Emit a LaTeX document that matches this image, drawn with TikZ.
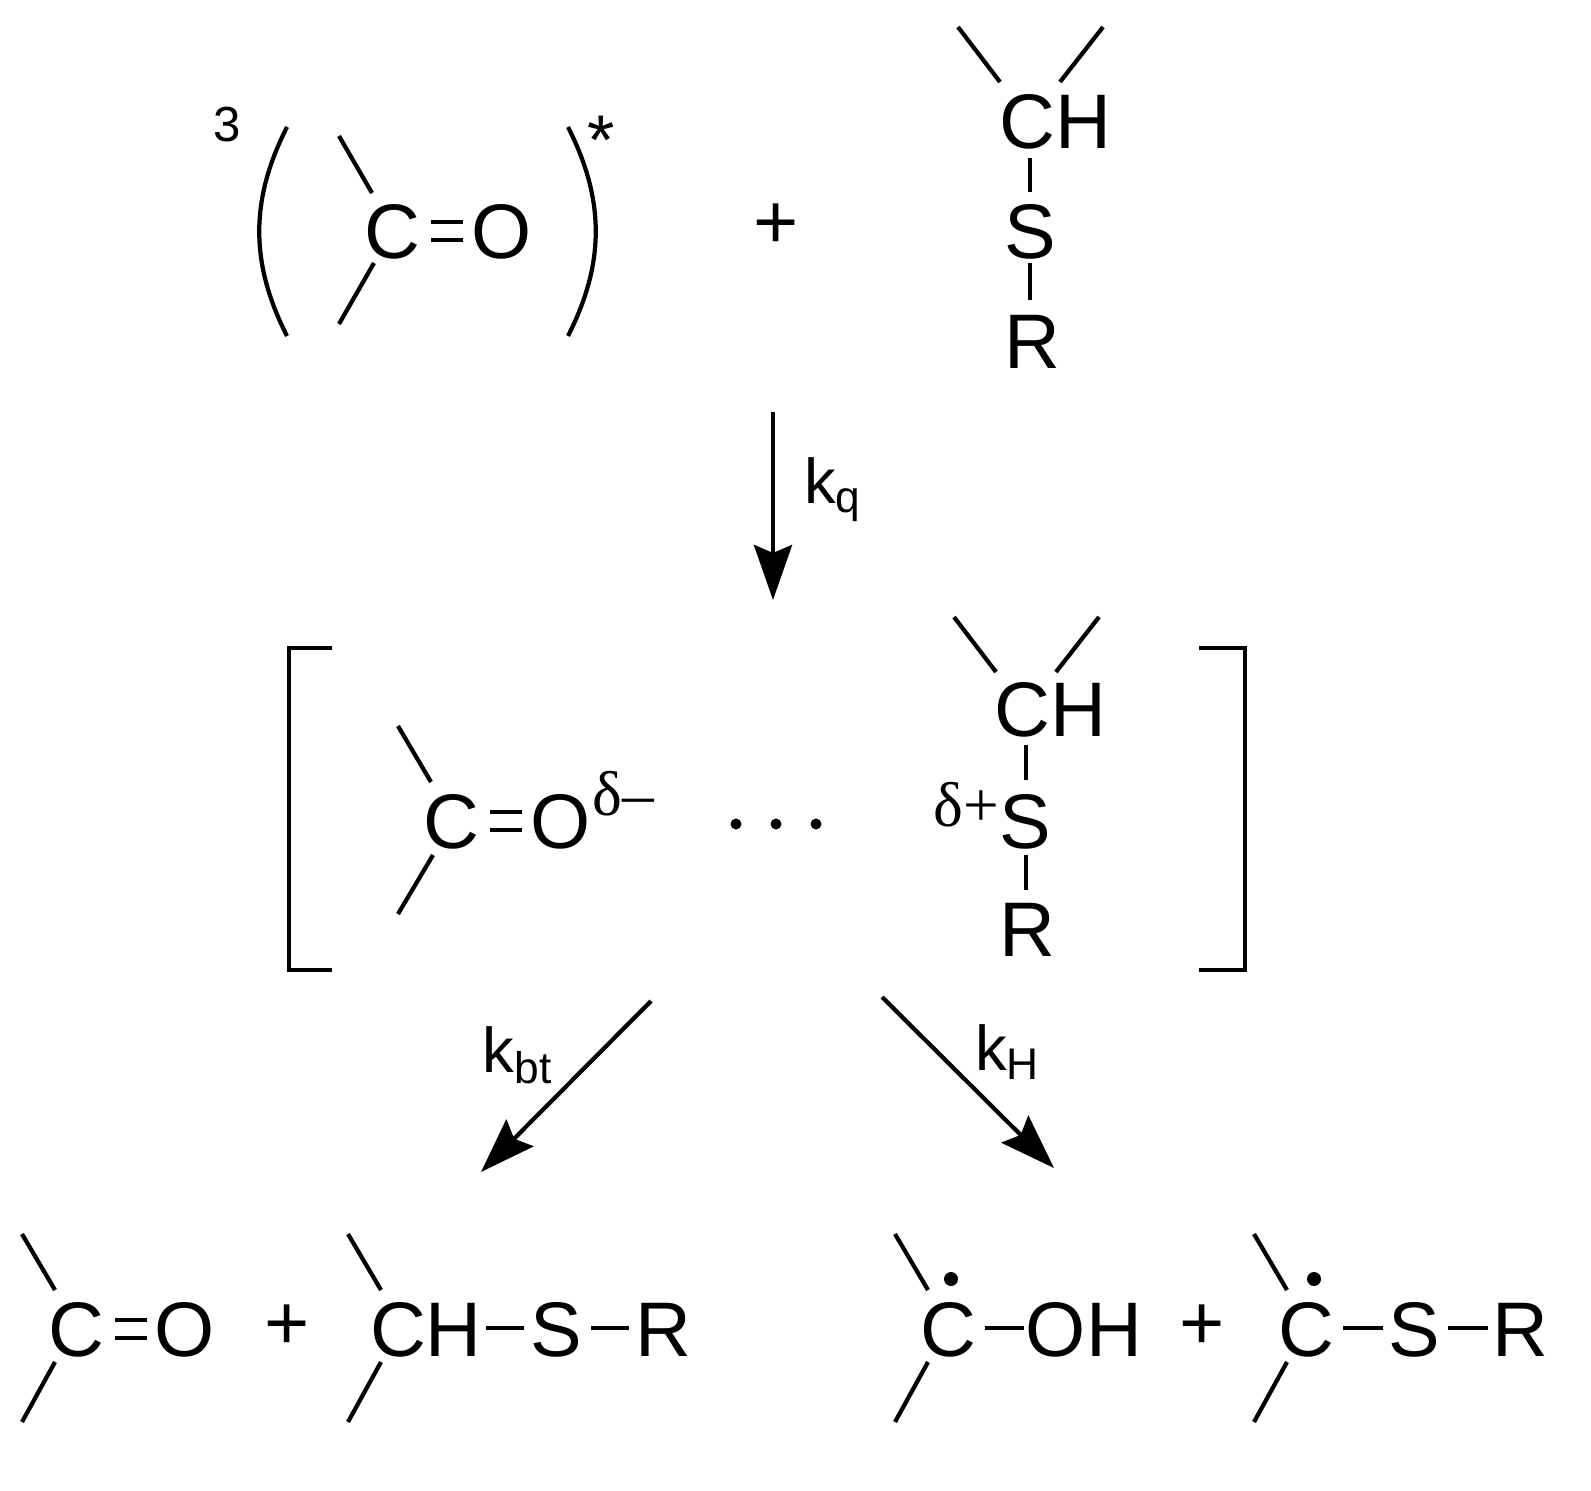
\documentclass[tikz,border=0pt]{standalone}
\usepackage{fontspec}
\setmainfont{Liberation Sans}
\newfontfamily\serifd{Liberation Serif}
\usetikzlibrary{arrows.meta}
\begin{document}
\begin{tikzpicture}[x=0.01cm,y=-0.01cm,line width=1.2pt,
  atm/.style={inner sep=0pt,font=\fontsize{22}{26}\selectfont},
  sm/.style={inner sep=0pt,font=\fontsize{14}{16}\selectfont},
  lab/.style={inner sep=0pt,font=\fontsize{18}{20}\selectfont},
  rx/.style={line width=1.2pt,-{Stealth[length=0.55cm,width=0.38cm,inset=0.08cm]}}]
\useasboundingbox (0,0) rectangle (1591,1491);
% top left
\node[sm] (three) at (227,125) {3};
\draw (287,127) .. controls (250,200) and (250,263) .. (287,336);
\draw (568,127) .. controls (605,200) and (605,263) .. (568,336);
\node[inner sep=0pt,font=\fontsize{20}{20}\selectfont] (star) at (601,140) {*};
\node[atm] (c1) at (392,232) {C};
\node[atm] (o1) at (502,232) {O};
\draw (431,222) -- (463,222) (431,240) -- (463,240);
\draw (339,136) -- (372,193) (374,263) -- (339,324);
\node[atm] (plus1) at (776,226) {+};
\node[atm] (ch1) at (1055,122) {CH};
\draw (958,27) -- (1000,82) (1103,27) -- (1060,82);
\node[atm] (s1) at (1030,232) {S};
\draw (1030,158) -- (1030,192) (1030,263) -- (1030,300);
\node[atm] (r1) at (1032,342) {R};
% kq
\coordinate (a1) at (773,412); \coordinate (a2) at (773,600);
\draw[rx] (a1) -- (a2);
\node[lab,anchor=west] (kq) at (802,490) {k$_{\mathrm{q}}$};
% middle
\draw (332,648) -- (289,648) -- (289,970) -- (332,970);
\draw (1199,648) -- (1245,648) -- (1245,970) -- (1199,970);
\node[atm] (c2) at (451,822) {C};
\node[atm] (o2) at (561,822) {O};
\draw (490,812) -- (522,812) (490,830) -- (522,830);
\node[lab] (dm) at (623,794) {\serifd δ–};
\draw (398,726) -- (431,782) (433,855) -- (398,914);
\foreach \x in {736,776,816} \fill (\x,824) circle (5.5);
\node[atm] (ch2) at (1050,710) {CH};
\draw (954,617) -- (996,672) (1099,617) -- (1056,672);
\node[atm] (s2) at (1025,822) {S};
\node[lab] (dp) at (966,805) {\serifd δ+};
\draw (1026,745) -- (1026,780) (1026,855) -- (1026,890);
\node[atm] (r2) at (1027,930) {R};
% arrows
\coordinate (b1) at (651,1001); \coordinate (b2) at (481,1172);
\draw[rx] (b1) -- (b2);
\coordinate (c1a) at (882,997); \coordinate (c2a) at (1054,1168);
\draw[rx] (c1a) -- (c2a);
\node[lab] (kbt) at (518,1055) {k$_{\mathrm{bt}}$};
\node[lab] (kh) at (1008,1052) {k$_{\mathrm{H}}$};
% bottom left
\node[atm] (c3) at (76,1330) {C};
\node[atm] (o3) at (185,1330) {O};
\draw (115,1320) -- (147,1320) (115,1338) -- (147,1338);
\draw (22,1234) -- (55,1290) (55,1362) -- (22,1422);
\node[atm] (plus2) at (287,1327) {+};
\node[atm] (ch3) at (426,1330) {CH};
\draw (348,1234) -- (381,1290) (381,1362) -- (348,1422);
\draw (486,1328) -- (524,1328);
\node[atm] (s3) at (556,1330) {S};
\draw (591,1328) -- (629,1328);
\node[atm] (r3) at (663,1330) {R};
% bottom right
\node[atm] (c4) at (948,1330) {C};
\fill (951,1279) circle (7);
\draw (895,1234) -- (928,1290) (928,1362) -- (895,1422);
\draw (985,1328) -- (1024,1328);
\node[atm] (oh) at (1084,1330) {OH};
\node[atm] (plus3) at (1202,1327) {+};
\node[atm] (c5) at (1306,1330) {C};
\fill (1314,1279) circle (7);
\draw (1254,1234) -- (1287,1290) (1287,1362) -- (1254,1422);
\draw (1343,1328) -- (1383,1328);
\node[atm] (s5) at (1414,1330) {S};
\draw (1448,1328) -- (1488,1328);
\node[atm] (r5) at (1520,1330) {R};
\end{tikzpicture}
\end{document}
